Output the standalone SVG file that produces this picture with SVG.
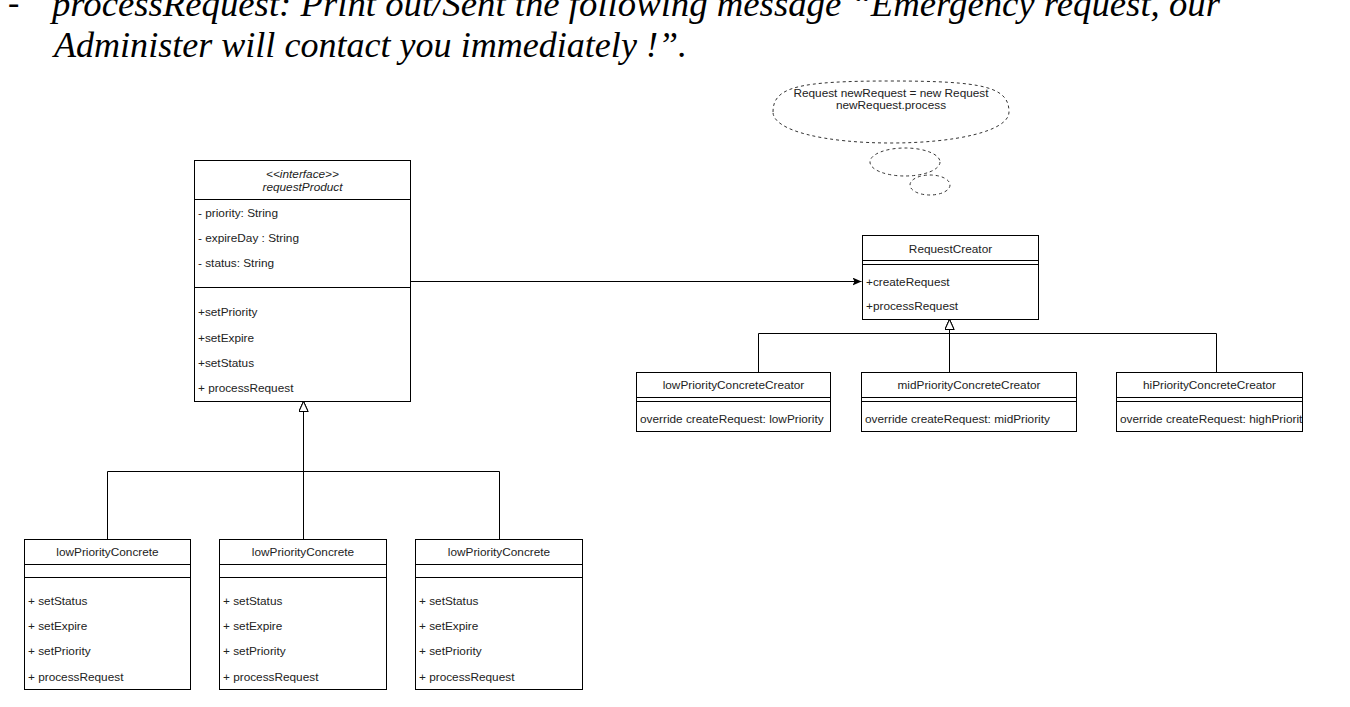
<svg xmlns="http://www.w3.org/2000/svg" width="1350" height="707" viewBox="0 0 1350 707">
<defs>
<style>
.box{fill:#fff;stroke:#000;stroke-width:1}
.ln{fill:none;stroke:#000;stroke-width:1}
.t{font-family:"Liberation Sans",Arial,Helvetica,sans-serif;font-size:11.8px;fill:#222}
.c{text-anchor:middle}
.i{font-style:italic}
.doc{font-family:"Liberation Serif","Times New Roman",serif;font-size:35px;font-style:italic;fill:#000}
.cloud{fill:#fff;stroke:#333;stroke-width:1;stroke-dasharray:3 3}
</style>
<marker id="tri" markerUnits="userSpaceOnUse" markerWidth="12" markerHeight="12" refX="10" refY="5" orient="auto">
<path d="M0,0.5 L10,5 L0,9.5 Z" fill="#fff" stroke="#000" stroke-width="1"/>
</marker>
<marker id="arr" markerUnits="userSpaceOnUse" markerWidth="10" markerHeight="10" refX="9" refY="4" orient="auto">
<path d="M0,0 L9,4 L0,8 L2,4 Z" fill="#000"/>
</marker>
<clipPath id="clipHi"><rect x="1117" y="372" width="185" height="60"/></clipPath>
</defs>

<g id="doc-text">
<text x="8" y="14" font-family="Liberation Serif,'Times New Roman',serif" font-size="34px" fill="#000">-</text>
<text class="doc" x="52" y="16" textLength="1168" lengthAdjust="spacingAndGlyphs">processRequest: Print out/Sent the following message “Emergency request, our</text>
<text class="doc" x="54" y="57" textLength="633" lengthAdjust="spacingAndGlyphs">Administer will contact you immediately !”.</text>
</g>

<g id="thought-cloud">
<path class="cloud" d="M773,112 C773,87 798,81 891,81 C984,81 1009,87 1009,112 C1009,131 956,143 891,143 C826,143 773,131 773,112 Z"/>
<ellipse class="cloud" cx="905" cy="162" rx="35" ry="14"/>
<ellipse class="cloud" cx="930" cy="185" rx="20" ry="10"/>
<text class="t c" x="891" y="97">Request newRequest = new Request</text>
<text class="t c" x="891" y="109">newRequest.process</text>
</g>

<g id="connectors">
<path class="ln" d="M410.5,281.5 H861.5" marker-end="url(#arr)"/>
<path class="ln" d="M758.5,372 V333.5 H949.5 V319.5" marker-end="url(#tri)"/>
<path class="ln" d="M949.5,372 V319.5" marker-end="url(#tri)"/>
<path class="ln" d="M1216.5,372 V333.5 H949.5 V319.5" marker-end="url(#tri)"/>
<path class="ln" d="M107.5,539 V471.5 H303.5 V401.5" marker-end="url(#tri)"/>
<path class="ln" d="M303.5,539 V401.5" marker-end="url(#tri)"/>
<path class="ln" d="M499.5,539 V471.5 H303.5 V401.5" marker-end="url(#tri)"/>
</g>

<g id="requestProduct">
<rect class="box" x="194.5" y="160.5" width="216" height="241"/>
<path class="ln" d="M194.5,199.5 H410.5 M194.5,287.5 H410.5"/>
<text class="t c i" x="302.5" y="178">&lt;&lt;interface&gt;&gt;</text>
<text class="t c i" x="302.5" y="191">requestProduct</text>
<text class="t" x="198" y="217">- priority: String</text>
<text class="t" x="198" y="242">- expireDay : String</text>
<text class="t" x="198" y="267">- status: String</text>
<text class="t" x="198" y="316">+setPriority</text>
<text class="t" x="198" y="342">+setExpire</text>
<text class="t" x="198" y="367">+setStatus</text>
<text class="t" x="198" y="392">+ processRequest</text>
</g>

<g id="RequestCreator">
<rect class="box" x="862.5" y="235.5" width="176" height="84"/>
<path class="ln" d="M862.5,260.5 H1038.5 M862.5,264.5 H1038.5"/>
<text class="t c" x="950.5" y="253">RequestCreator</text>
<text class="t" x="866" y="286">+createRequest</text>
<text class="t" x="866" y="310">+processRequest</text>
</g>

<g id="lowPriorityConcreteCreator">
<rect class="box" x="636.5" y="372.5" width="194" height="59"/>
<path class="ln" d="M636.5,397.5 H830.5 M636.5,401.5 H830.5"/>
<text class="t c" x="733.5" y="389">lowPriorityConcreteCreator</text>
<text class="t" x="640" y="423">override createRequest: lowPriority</text>
</g>

<g id="midPriorityConcreteCreator">
<rect class="box" x="861.5" y="372.5" width="215" height="59"/>
<path class="ln" d="M861.5,397.5 H1076.5 M861.5,401.5 H1076.5"/>
<text class="t c" x="969" y="389">midPriorityConcreteCreator</text>
<text class="t" x="865" y="423">override createRequest: midPriority</text>
</g>

<g id="hiPriorityConcreteCreator">
<rect class="box" x="1116.5" y="372.5" width="186" height="59"/>
<path class="ln" d="M1116.5,397.5 H1302.5 M1116.5,401.5 H1302.5"/>
<text class="t c" x="1209.5" y="389">hiPriorityConcreteCreator</text>
<text class="t" x="1120" y="423" clip-path="url(#clipHi)">override createRequest: highPriority</text>
</g>

<g id="lowPriorityConcrete-1">
<rect class="box" x="24.5" y="539.5" width="166" height="150"/>
<path class="ln" d="M24.5,564.5 H190.5 M24.5,577.5 H190.5"/>
<text class="t c" x="107.5" y="556">lowPriorityConcrete</text>
<text class="t" x="28" y="605">+ setStatus</text>
<text class="t" x="28" y="630">+ setExpire</text>
<text class="t" x="28" y="655">+ setPriority</text>
<text class="t" x="28" y="681">+ processRequest</text>
</g>

<g id="lowPriorityConcrete-2">
<rect class="box" x="219.5" y="539.5" width="167" height="150"/>
<path class="ln" d="M219.5,564.5 H386.5 M219.5,577.5 H386.5"/>
<text class="t c" x="303" y="556">lowPriorityConcrete</text>
<text class="t" x="223" y="605">+ setStatus</text>
<text class="t" x="223" y="630">+ setExpire</text>
<text class="t" x="223" y="655">+ setPriority</text>
<text class="t" x="223" y="681">+ processRequest</text>
</g>

<g id="lowPriorityConcrete-3">
<rect class="box" x="415.5" y="539.5" width="167" height="150"/>
<path class="ln" d="M415.5,564.5 H582.5 M415.5,577.5 H582.5"/>
<text class="t c" x="499" y="556">lowPriorityConcrete</text>
<text class="t" x="419" y="605">+ setStatus</text>
<text class="t" x="419" y="630">+ setExpire</text>
<text class="t" x="419" y="655">+ setPriority</text>
<text class="t" x="419" y="681">+ processRequest</text>
</g>
</svg>
